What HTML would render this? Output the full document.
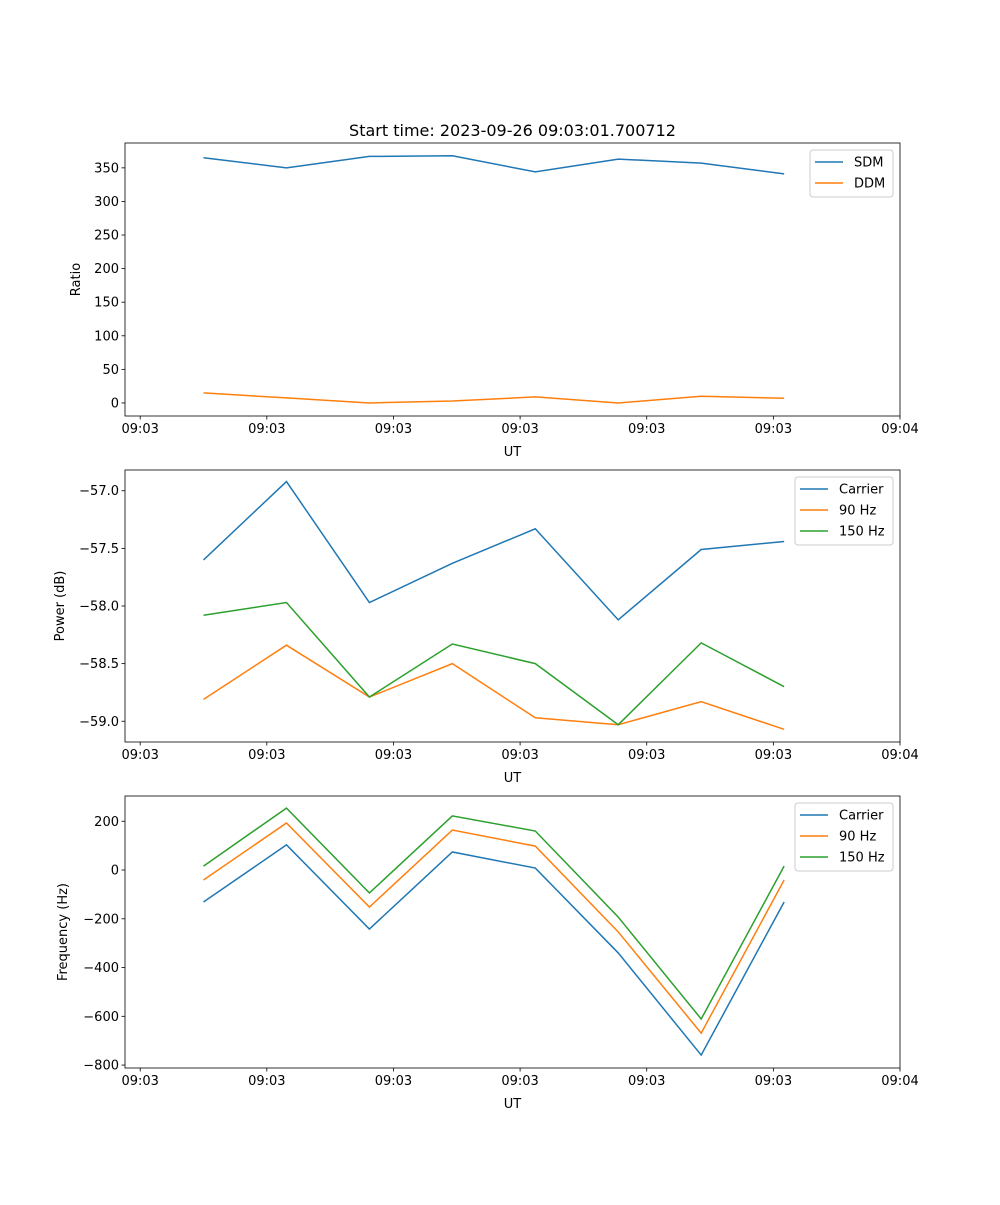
<!DOCTYPE html>
<html><head><meta charset="utf-8"><style>
body{margin:0;background:#fff;}
svg text{font-family:"DejaVu Sans","Liberation Sans",sans-serif;}
</style></head><body>
<svg id="fig" width="1000" height="1200" xmlns="http://www.w3.org/2000/svg">
<rect width="1000" height="1200" fill="#fff"/>
<text x="512.5" y="136" font-size="16" text-anchor="middle">Start time: 2023-09-26 09:03:01.700712</text>
</svg>
<script>
const times = [0.5, 1.155, 1.81, 2.465, 3.12, 3.775, 4.43, 5.085];
const xTickLabels = ['09:03','09:03','09:03','09:03','09:03','09:03','09:04'];
const sdm = [365, 350, 367, 368, 344, 363, 357, 341];
const ddm = [15, 7.5, 0, 3, 9, 0, 10, 7];
const pwrCarrier = [-57.6, -56.92, -57.97, -57.63, -57.33, -58.12, -57.51, -57.44];
const pwr90 = [-58.81, -58.34, -58.79, -58.50, -58.97, -59.03, -58.83, -59.07];
const pwr150 = [-58.08, -57.97, -58.79, -58.33, -58.50, -59.03, -58.32, -58.70];
const frqCarrier = [-131, 103, -242, 74, 8, -340, -759, -131];
const frq90 = [-41, 193, -152, 164, 98, -254, -669, -41];
const frq150 = [16, 254, -94, 222, 160, -193, -611, 16];
const ticks1 = [0,50,100,150,200,250,300,350];
const ticks2 = [-57.0,-57.5,-58.0,-58.5,-59.0];
const ticks3 = [200,0,-200,-400,-600,-800];
const C = ['#1f77b4','#ff7f0e','#2ca02c'];
const NS='http://www.w3.org/2000/svg';
const svg=document.getElementById('fig');
function mk(tag,attrs,parent){const e=document.createElementNS(NS,tag);for(const k in attrs)e.setAttribute(k,attrs[k]);(parent||svg).appendChild(e);return e;}
const X0=125,X1=900,XMIN=-0.12,XMAX=6.0;
function xs(t){return X0+(t-XMIN)/(XMAX-XMIN)*(X1-X0);}
function panel(name,top,bottom,ymin,ymax,ticks,fmt,ylabel,series,names,legend){
  const g=mk('g',{});
  
  
  const ys=v=>bottom-(v-ymin)/(ymax-ymin)*(bottom-top);
  series.forEach((s,i)=>{
    const p=mk('polyline',{points:s.map((v,j)=>xs(times[j])+','+ys(v)).join(' '),fill:'none',stroke:C[i],'stroke-width':1.5},g);
    
    
  });
  const r=mk('rect',{x:X0,y:top,width:X1-X0,height:bottom-top,fill:'none',stroke:'#000','stroke-width':0.8},g);
  
  
  xTickLabels.forEach((l,i)=>{
    const x=xs(i);
    mk('line',{x1:x,x2:x,y1:bottom,y2:bottom+3.5,stroke:'#000','stroke-width':0.8},g);
    const t=mk('text',{x:x,y:bottom+17,'font-size':13,'text-anchor':'middle'},g);t.textContent=l;
    
    
  });
  const xl=mk('text',{x:512.5,y:bottom+40,'font-size':13,'text-anchor':'middle'},g);xl.textContent='UT';
  
  
  ticks.forEach(v=>{
    const y=ys(v);
    mk('line',{x1:X0-3.5,x2:X0,y1:y,y2:y,stroke:'#000','stroke-width':0.8},g);
    const t=mk('text',{x:X0-6,y:y+4.5,'font-size':13,'text-anchor':'end'},g);t.textContent=fmt(v);
    
    
  });
  const ly=(top+bottom)/2;
  const yl=mk('text',{x:legend.lx,y:ly,'font-size':13,'text-anchor':'middle',transform:`rotate(-90 ${legend.lx} ${ly})`},g);yl.textContent=ylabel;
  
  
  const lg=mk('g',{},g);
  
  
  mk('rect',{x:legend.x,y:top+7,width:893-legend.x,height:names.length*21+5,rx:3,fill:'#fff',stroke:'#ccc'},lg);
  names.forEach((n,i)=>{
    const yy=top+19+i*21;
    mk('line',{x1:legend.x+5,x2:legend.x+33,y1:yy,y2:yy,stroke:C[i],'stroke-width':1.5},lg);
    const t=mk('text',{x:legend.x+44,y:yy+4.5,'font-size':13},lg);t.textContent=n;
    
    
  });
}
panel('ratio-panel',143,416,-19.4,387,ticks1,v=>String(v),'Ratio',[sdm,ddm],['SDM','DDM'],{x:810,lx:80});
panel('power-panel',470,742,-59.18,-56.82,ticks2,v=>'\u2212'+Math.abs(v).toFixed(1),'Power (dB)',[pwrCarrier,pwr90,pwr150],['Carrier','90 Hz','150 Hz'],{x:795,lx:64});
panel('frequency-panel',796,1068,-812,303.6,ticks3,v=>(v<0?'\u2212':'')+Math.abs(v),'Frequency (Hz)',[frqCarrier,frq90,frq150],['Carrier','90 Hz','150 Hz'],{x:795,lx:67});
</script>
</body></html>
